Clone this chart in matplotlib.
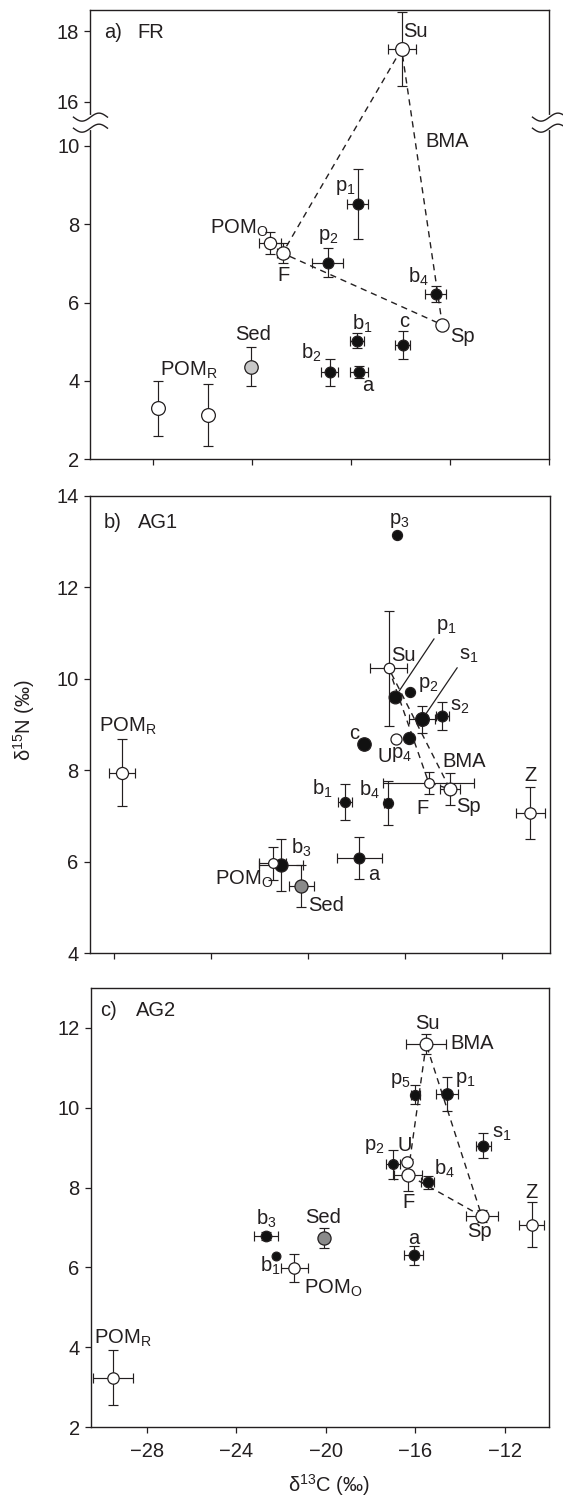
# %%
import numpy as np
import matplotlib
matplotlib.use('Agg')
import matplotlib.pyplot as plt

plt.rcParams['font.family'] = ['Liberation Sans', 'DejaVu Sans']
plt.rcParams['mathtext.fontset'] = 'custom'
plt.rcParams['mathtext.rm'] = 'Liberation Sans'
plt.rcParams['mathtext.it'] = 'Liberation Sans:italic'
plt.rcParams['mathtext.default'] = 'regular'
plt.rcParams['font.size'] = 14.5
ink = '#231f20'

# %% data: d13C, d15N means and sd, per site
# a) FR
fr_names = ['p1', 'p2', 'b1', 'b2', 'b4', 'a', 'c',
            'POM_R', 'POM_R2', 'Sed', 'POM_O', 'Su', 'F', 'Sp']
fr_c = [-19.73, -20.94, -19.75, -20.86, -16.59, -19.67, -17.91,
        -27.77, -25.77, -24.02, -23.28, -17.96, -22.76, -16.32]
fr_n = [8.51, 7.02, 5.03, 4.22, 6.22, 4.22, 4.92,
        3.30, 3.13, 4.36, 7.51, 17.5, 7.26, 5.43]
fr_csd = [0.42, 0.63, 0.27, 0.34, 0.42, 0.35, 0.30,
          0, 0, 0, 0.44, 0.56, 0.23, 0.1]
fr_nsd = [0.90, 0.36, 0.20, 0.34, 0.20, 0.15, 0.36,
          0.71, 0.80, 0.50, 0.28, 1.05, 0.26, 0.1]

# b) AG1
ag1_names = ['p3', 'p1', 'p2', 's1', 's2', 'c', 'p4', 'b1', 'b3', 'b4', 'a',
             'POM_R', 'Sed', 'POM_O', 'Z', 'Su', 'U', 'F', 'Sp']
ag1_c = [-16.33, -16.39, -15.78, -15.29, -14.45, -17.67, -15.85, -18.49, -21.10, -16.71, -17.88,
         -27.67, -20.28, -21.45, -10.82, -16.67, -16.37, -15.02, -14.14]
ag1_n = [13.14, 9.61, 9.72, 9.11, 9.19, 8.57, 8.71, 7.31, 5.93, 7.28, 6.08,
         7.95, 5.47, 5.97, 7.06, 10.23, 8.68, 7.73, 7.59]
ag1_csd = [0, 0, 0, 0.55, 0.27, 0, 0, 0.29, 0.90, 0.15, 0.93,
           0.54, 0.51, 0.55, 0.58, 0.77, 0, 1.87, 0.43]
ag1_nsd = [0, 0, 0, 0.29, 0.30, 0, 0, 0.39, 0.56, 0.48, 0.46,
           0.74, 0.45, 0.36, 0.57, 1.26, 0, 0.24, 0.34]

# c) AG2
ag2_names = ['p1', 'p2', 'p5', 's1', 'b1', 'b3', 'b4', 'a',
             'POM_R', 'Sed', 'POM_O', 'Z', 'Su', 'U', 'F', 'Sp']
ag2_c = [-14.59, -16.98, -16.00, -12.95, -22.23, -22.68, -15.45, -16.07,
         -29.51, -20.07, -21.40, -10.80, -15.51, -16.38, -16.33, -13.02]
ag2_n = [10.34, 8.58, 10.33, 9.05, 6.28, 6.78, 8.13, 6.30,
         3.24, 6.74, 5.99, 7.07, 11.59, 8.63, 8.32, 7.28]
ag2_csd = [0.50, 0.31, 0.20, 0.34, 0, 0.54, 0.30, 0.44,
           0.89, 0, 0.59, 0.56, 0.89, 0, 0.63, 0.71]
ag2_nsd = [0.43, 0.37, 0.23, 0.32, 0, 0.10, 0.17, 0.24,
           0.69, 0.25, 0.35, 0.57, 0.25, 0, 0.40, 0.15]

bma = ['Su', 'F', 'Sp', 'Su']   # seasonal BMA triangle
open_src = {'Su', 'F', 'Sp', 'U', 'POM_O', 'POM_R', 'POM_R2', 'Z'}

# %% styling per panel (marker diameter px, label offset px)
fr_size = {'Su': 15, 'F': 14.5, 'Sp': 14.5, 'POM_O': 13.5, 'POM_R': 15, 'POM_R2': 15, 'Sed': 14.7}
ag1_size = {'Su': 11.7, 'p1': 14, 'p2': 11.3, 's1': 15, 's2': 12, 'c': 14.7, 'U': 12.3,
            'p4': 13.3, 'F': 11, 'Sp': 14, 'Z': 12.6, 'POM_O': 11, 'POM_R': 13.3,
            'Sed': 14.3, 'b1': 11.3, 'b4': 11.3, 'a': 12, 'b3': 14.3, 'p3': 11.3}
ag2_size = {'Su': 14, 'p5': 11.3, 'p1': 12.7, 's1': 12, 'b4': 11.7, 'U': 12.7, 'F': 14.3,
            'Sp': 14.3, 'p2': 11, 'Z': 12.6, 'a': 11.8, 'Sed': 14.4, 'b3': 11.8, 'b1': 10,
            'POM_O': 12.6, 'POM_R': 12.6}

fr_lab = {'Su': (2, 17, 'left'), 'p1': (-2, 17, 'right'), 'POM_O': (-1, 15, 'right'),
          'p2': (1, 26, 'center'), 'F': (1, -22, 'center'), 'b4': (-7, 17, 'right'),
          'Sp': (8, -12, 'left'), 'c': (1, 23, 'center'), 'b1': (-5, 17, 'left'),
          'b2': (-8, 19, 'right'), 'a': (9, -13, 'center'), 'Sed': (2, 32, 'center'),
          'POM_R': (2, 38, 'left')}
ag1_lab = {'p3': (2, 15, 'center'), 'Su': (2, 13, 'left'), 'p1': (40.7, 70, 'left'),
           'p2': (8, 7, 'left'), 's1': (37.3, 64, 'left'), 's2': (7.4, 9, 'left'),
           'c': (-10, 11, 'center'), 'U': (-11, -17, 'center'), 'p4': (-17.6, -17, 'left'),
           'F': (-6.5, -25.6, 'center'), 'Sp': (6, -17.7, 'left'), 'Z': (0, 38, 'center'),
           'b1': (-11.7, 13.4, 'right'), 'b4': (-8.3, 13.3, 'right'), 'a': (8.3, -16.7, 'left'),
           'POM_O': (0, -16.7, 'right'), 'b3': (10, 16.7, 'left'), 'Sed': (6.6, -19, 'left'),
           'POM_R': (6, 46, 'center')}
ag2_lab = {'Su': (1.2, 20.6, 'center'), 'p5': (-5, 14, 'right'), 'p1': (8.3, 15, 'left'),
           's1': (8.4, 11.7, 'left'), 'p2': (-8.3, 18, 'right'), 'U': (-1.7, 16.7, 'center'),
           'F': (0.6, -27.4, 'center'), 'b4': (6.7, 13.4, 'left'), 'Sp': (-2.5, -15.7, 'center'),
           'Z': (0, 32.6, 'center'), 'a': (0, 16.7, 'center'), 'Sed': (-1.4, 20.6, 'center'),
           'b3': (1, 17.7, 'center'), 'b1': (-5.8, -10, 'center'), 'POM_O': (10, -21, 'left'),
           'POM_R': (-19, 39, 'left')}
leaders = {'p1', 's1'}

px2pt = 72 / 100


def label_text(nm):
    if nm.startswith('POM_'):
        return 'POM$_%s$' % nm[4]
    if len(nm) == 2 and nm[1].isdigit():
        return '%s$_%s$' % (nm[0], nm[1])
    return nm


def draw(ax, names, xs, ys, xsd, ysd, sizes, labs, sed_col, lead=()):
    idx = {nm: i for i, nm in enumerate(names)}
    tri = [idx[nm] for nm in bma]
    ax.plot([xs[i] for i in tri], [ys[i] for i in tri], color=ink, lw=1.0,
            ls=(0, (4.5, 3.5)), zorder=1)
    for i, nm in enumerate(names):
        xe = xsd[i] if xsd[i] > 0 else None
        ye = ysd[i] if ysd[i] > 0 else None
        if xe is not None or ye is not None:
            ax.errorbar(xs[i], ys[i], xerr=xe, yerr=ye, fmt='none', ecolor=ink,
                        elinewidth=0.85, capsize=3.6, capthick=0.85, zorder=2)
        if nm in open_src:
            fc = 'white'
        elif nm == 'Sed':
            fc = sed_col
        else:
            fc = '#111111'
        d = sizes.get(nm, 12)
        ax.plot(xs[i], ys[i], 'o', ms=d * px2pt - 0.9, mfc=fc, mec=ink, mew=0.9,
                zorder=3 + i * 0.01)
        if nm in labs:
            dx, dy, ha = labs[nm]
            kw = {}
            if nm in lead:
                kw['arrowprops'] = dict(arrowstyle='-', color=ink, lw=0.9, shrinkA=0,
                                        shrinkB=5, relpos=(0.05, 0.1))
            ax.annotate(label_text(nm), (xs[i], ys[i]), xytext=(dx, dy),
                        textcoords='offset pixels', ha=ha, va='center', color=ink,
                        zorder=6, **kw)


def frame(ax):
    for s in ax.spines.values():
        s.set_linewidth(1.0)
        s.set_color(ink)
    ax.tick_params(direction='out', length=4, width=0.9, colors=ink, pad=4,
                   top=False, right=False)
    ax.set_xticks([-28, -24, -20, -16, -12])


fig = plt.figure(figsize=(5.63, 14.97), dpi=100)

# %% a) FR, broken y axis
ax1 = fig.add_axes([0.1607, 0.6932, 0.8153, 0.3001])
lo, hi = 10.45, 15.57
k = 0.902
fwd = lambda y: np.interp(y, [-100, lo, hi, 100], [-100, lo, 10.73, 11.118 + 84 * k])
inv = lambda p: np.interp(p, [-100, lo, 10.73, 11.118 + 84 * k], [-100, lo, hi, 100])
ax1.set_yscale('function', functions=(fwd, inv))
frame(ax1)
draw(ax1, fr_names, fr_c, fr_n, fr_csd, fr_nsd, fr_size, fr_lab, '#c8c8c8')
ax1.set_xlim(-30.5, -12)
ax1.set_ylim(2, 18.6)
ax1.set_yticks([2, 4, 6, 8, 10, 16, 18])
ax1.set_yticklabels(['2', '4', '6', '8', '10', '16', '18'])
ax1.yaxis.set_minor_locator(matplotlib.ticker.NullLocator())
ax1.tick_params(labelbottom=False)
ax1.text(0.029, 0.951, 'a)', transform=ax1.transAxes, va='center', color=ink)
ax1.text(0.103, 0.951, 'FR', transform=ax1.transAxes, va='center', color=ink)
ax1.text(0.729, 0.707, 'BMA', transform=ax1.transAxes, va='center', color=ink)

# break marks on both side spines
wpx, hpx = 459.0, 449.3
sx = np.linspace(-17, 17, 60)
sy = 4.0 * np.sin(np.pi * sx / 17)
for xe in (0.0, 1.0):
    ax1.plot([xe, xe], [0.737, 0.7616], transform=ax1.transAxes, color='white',
             lw=3, clip_on=False, zorder=7)
    for yb in (0.737, 0.7616):
        ax1.plot(xe + sx / wpx, yb + sy / hpx, transform=ax1.transAxes, color=ink,
                 lw=1.0, clip_on=False, zorder=8)

# %% b) AG1
ax2 = fig.add_axes([0.1595, 0.3632, 0.8180, 0.3057])
frame(ax2)
draw(ax2, ag1_names, ag1_c, ag1_n, ag1_csd, ag1_nsd, ag1_size, ag1_lab, '#8a8a8a', leaders)
ax2.set_xlim(-29, -10)
ax2.set_ylim(4, 14)
ax2.set_yticks([4, 6, 8, 10, 12, 14])
ax2.tick_params(labelbottom=False)
ax2.text(0.031, 0.942, 'b)', transform=ax2.transAxes, va='center', color=ink)
ax2.text(0.105, 0.942, 'AG1', transform=ax2.transAxes, va='center', color=ink)
ax2.text(0.766, 0.419, 'BMA', transform=ax2.transAxes, va='center', color=ink)

# %% c) AG2
ax3 = fig.add_axes([0.1613, 0.04676, 0.8146, 0.2933])
frame(ax3)
draw(ax3, ag2_names, ag2_c, ag2_n, ag2_csd, ag2_nsd, ag2_size, ag2_lab, '#8a8a8a')
ax3.set_xlim(-30.5, -10)
ax3.set_ylim(2, 13)
ax3.set_yticks([2, 4, 6, 8, 10, 12])
ax3.tick_params(axis='x', pad=7)
ax3.text(0.021, 0.948, 'c)', transform=ax3.transAxes, va='center', color=ink)
ax3.text(0.098, 0.948, 'AG2', transform=ax3.transAxes, va='center', color=ink)
ax3.text(0.783, 0.874, 'BMA', transform=ax3.transAxes, va='center', color=ink)

fig.text(24 / 563, 1 - 720 / 1497, '\u03b4$^{15}$N (\u2030)', rotation=90,
         ha='center', va='center', color=ink)
fig.text(329 / 563, 1 - 1485 / 1497, '\u03b4$^{13}$C (\u2030)', ha='center',
         va='center', color=ink)

fig.savefig('out.png', dpi=100)
